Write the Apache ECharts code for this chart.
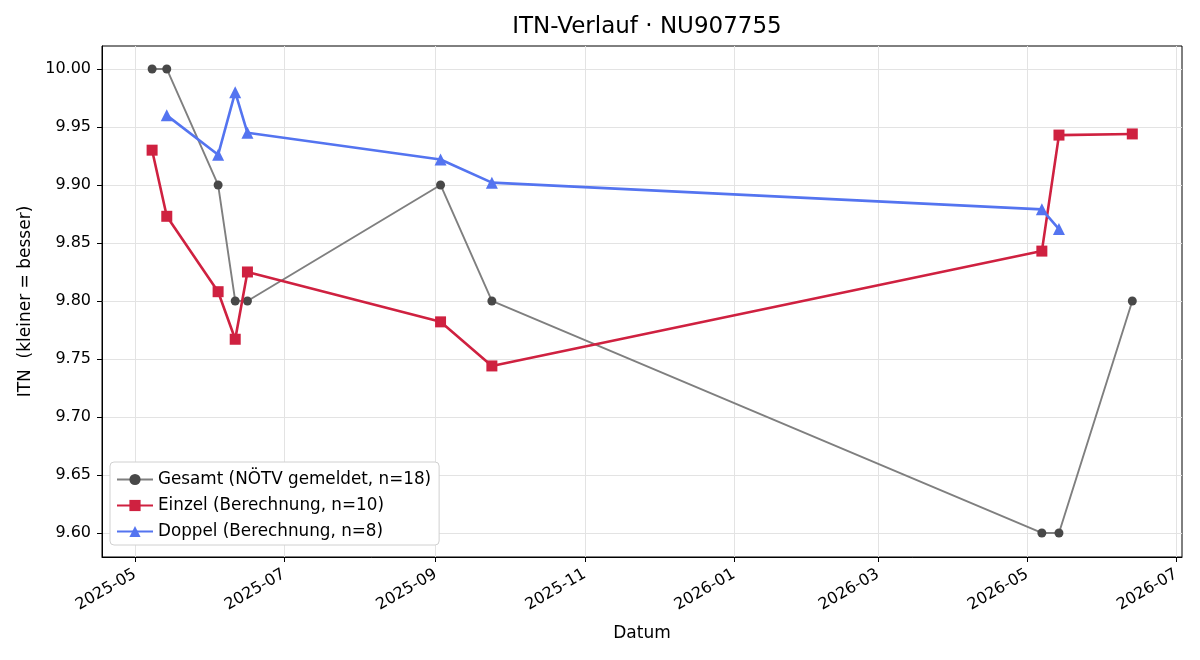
<!DOCTYPE html>
<html>
<head>
<meta charset="utf-8">
<script src="https://cdn.jsdelivr.net/npm/echarts@6/dist/echarts.min.js"></script>
<style>
  html, body { margin: 0; padding: 0; background: #fff; }
  #chart { width: 1200px; height: 660px; }
</style>
</head>
<body>
<div id="chart"></div>
<script>
var gesamtDates = ['2025-05-08', '2025-05-14', '2025-06-04', '2025-06-11', '2025-06-16', '2025-09-03', '2025-09-24', '2026-05-07', '2026-05-14', '2026-06-13'];
var gesamtValues = [10.00, 10.00, 9.90, 9.80, 9.80, 9.90, 9.80, 9.60, 9.60, 9.80];

var einzelDates = ['2025-05-08', '2025-05-14', '2025-06-04', '2025-06-11', '2025-06-16', '2025-09-03', '2025-09-24', '2026-05-07', '2026-05-14', '2026-06-13'];
var einzelValues = [9.930, 9.873, 9.808, 9.767, 9.825, 9.782, 9.744, 9.843, 9.943, 9.944];

var doppelDates = ['2025-05-14', '2025-06-04', '2025-06-11', '2025-06-16', '2025-09-03', '2025-09-24', '2026-05-07', '2026-05-14'];
var doppelValues = [9.960, 9.926, 9.980, 9.945, 9.922, 9.902, 9.879, 9.862];

var monthTicks = ['2025-05-01', '2025-07-01', '2025-09-01', '2025-11-01', '2026-01-01', '2026-03-01', '2026-05-01', '2026-07-01'];
var yTicks = [9.60, 9.65, 9.70, 9.75, 9.80, 9.85, 9.90, 9.95, 10.00];

// time as plain numbers (ms) on a value axis so custom month ticks work
function ts(d) { return +new Date(d + 'T00:00:00'); }
function pairs(dates, values) {
  return dates.map(function (d, i) { return [ts(d), values[i]]; });
}

var tickTimes = monthTicks.map(ts);
var font = 'DejaVu Sans';

var chart = echarts.init(document.getElementById('chart'));
var option = {
  animation: false,
  textStyle: { fontFamily: font },
  title: {
    text: 'ITN-Verlauf · NU907755',
    left: 642,
    top: 11,
    textAlign: 'center',
    textStyle: { fontFamily: font, fontSize: 23, fontWeight: 'normal', color: '#000' }
  },
  legend: {
    orient: 'vertical',
    left: 110,
    top: 462,
    itemWidth: 36,
    itemHeight: 14,
    itemGap: 9,
    padding: [9, 8, 5, 6],
    backgroundColor: '#fff',
    borderColor: '#d0d0d0',
    borderWidth: 1,
    borderRadius: 4,
    textStyle: { fontFamily: font, fontSize: 16.8, color: '#000' },
    data: ['Gesamt (NÖTV gemeldet, n=18)', 'Einzel (Berechnung, n=10)', 'Doppel (Berechnung, n=8)']
  },
  grid: {
    left: 102,
    right: 18,
    top: 46,
    bottom: 103,
    show: true,
    borderColor: '#000',
    borderWidth: 1
  },
  xAxis: {
    type: 'value',
    min: ts('2025-04-17') + 12 * 3600e3,
    max: ts('2026-07-03') + 8 * 3600e3,
    name: 'Datum',
    nameLocation: 'middle',
    nameGap: 68,
    nameTextStyle: { fontFamily: font, fontSize: 17, color: '#000' },
    axisLine: { show: true, onZero: false, lineStyle: { color: '#000' } },
    axisTick: { show: true, length: 5, customValues: tickTimes, lineStyle: { color: '#000' } },
    axisLabel: {
      customValues: tickTimes,
      rotate: 30,
      fontSize: 16,
      color: '#000',
      margin: 16,
      formatter: function (v) {
        var d = new Date(v);
        var m = d.getMonth() + 1;
        return d.getFullYear() + '-' + (m < 10 ? '0' + m : m);
      }
    },
    splitLine: { show: true, lineStyle: { color: '#e3e3e3' } }
  },
  yAxis: {
    type: 'value',
    min: 9.5793,
    max: 10.0198,
    name: 'ITN  (kleiner = besser)',
    nameLocation: 'middle',
    nameGap: 68,
    nameTextStyle: { fontFamily: font, fontSize: 17, color: '#000' },
    axisLine: { show: true, onZero: false, lineStyle: { color: '#000' } },
    axisTick: { show: true, length: 5, customValues: yTicks, lineStyle: { color: '#000' } },
    axisLabel: {
      customValues: yTicks,
      fontSize: 16,
      color: '#000',
      margin: 11,
      formatter: function (v) { return v.toFixed(2); }
    },
    splitLine: { show: true, lineStyle: { color: '#e3e3e3' } }
  },
  series: [
    {
      name: 'Gesamt (NÖTV gemeldet, n=18)',
      type: 'line',
      data: pairs(gesamtDates, gesamtValues),
      symbol: 'circle',
      symbolSize: 9,
      lineStyle: { color: '#7f7f7f', width: 1.9 },
      itemStyle: { color: '#484848' },
      z: 2
    },
    {
      name: 'Einzel (Berechnung, n=10)',
      type: 'line',
      data: pairs(einzelDates, einzelValues),
      symbol: 'rect',
      symbolSize: 11,
      lineStyle: { color: '#cf2140', width: 2.6 },
      itemStyle: { color: '#cf2140' },
      z: 3
    },
    {
      name: 'Doppel (Berechnung, n=8)',
      type: 'line',
      data: pairs(doppelDates, doppelValues),
      symbol: 'triangle',
      symbolSize: 12,
      lineStyle: { color: '#5474f0', width: 2.6 },
      itemStyle: { color: '#5474f0' },
      z: 4
    }
  ]
};
chart.setOption(option);
</script>
</body>
</html>
